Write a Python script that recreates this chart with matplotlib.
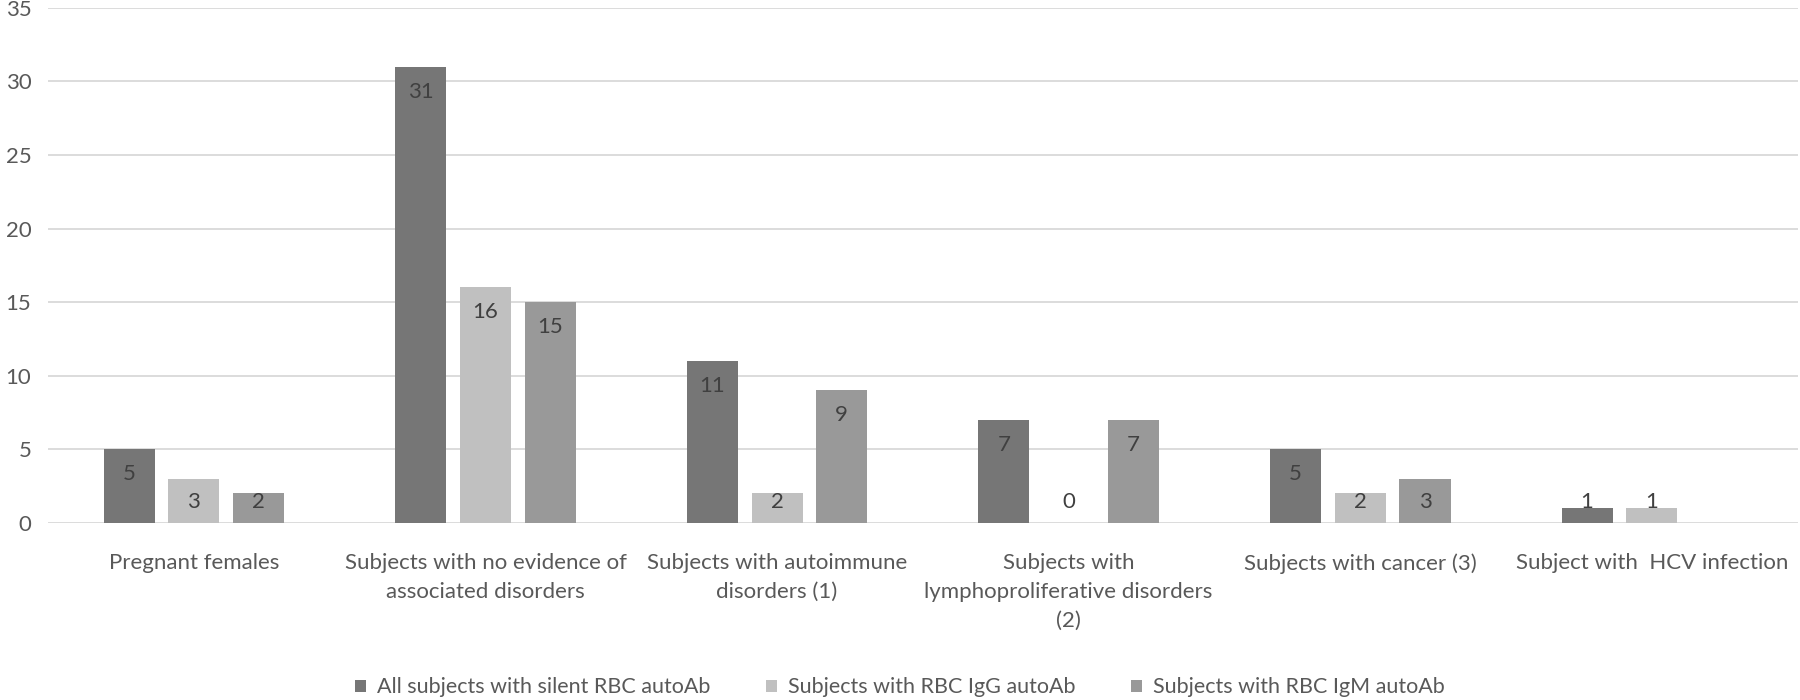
import numpy as np
import matplotlib.pyplot as plt

plt.rcParams['font.family'] = ['Lato', 'DejaVu Sans']

categories = ["Pregnant females",
              "Subjects with no evidence of\nassociated disorders",
              "Subjects with autoimmune\ndisorders (1)",
              "Subjects with\nlymphoproliferative disorders\n(2)",
              "Subjects with cancer (3)",
              "Subject with  HCV infection"]
series_names = ["All subjects with silent RBC autoAb",
                "Subjects with RBC IgG autoAb",
                "Subjects with RBC IgM autoAb"]
all_silent = [5, 31, 11, 7, 5, 1]
igg = [3, 16, 2, 0, 2, 1]
igm = [2, 15, 9, 7, 3, None]

colors = ["#767676", "#c0c0c0", "#999999"]

fig = plt.figure(figsize=(18, 7), dpi=100)
ax = fig.add_axes([0.0267, 0.253, 0.972, 0.736])

x = np.arange(len(categories))
width = 0.175
step = 0.222

for i, (vals, name) in enumerate(zip([all_silent, igg, igm], series_names)):
    pos = x + (i - 1) * step
    h = [v if v is not None else 0 for v in vals]
    ax.bar(pos, h, width, color=colors[i], label=name, zorder=3)
    for p, v in zip(pos, vals):
        if v is None:
            continue
        # label sits just inside the bar top, but never below the baseline
        ax.text(p, max(v - 1.7, 1.45), str(v), ha="center", va="center",
                fontsize=16, color="#404040", zorder=4)

ax.set_xlim(-0.5, len(categories) - 0.5)
ax.set_ylim(0, 35)
ax.set_yticks(range(0, 36, 5))
ax.set_xticks(x)
ax.set_xticklabels(categories, linespacing=1.55)
ax.yaxis.grid(True, color="#d9d9d9", linewidth=1.3, zorder=0)
ax.set_axisbelow(True)
for s in ax.spines.values():
    s.set_visible(False)
ax.tick_params(axis="x", length=0, pad=22, labelsize=16, labelcolor="#595959")
ax.tick_params(axis="y", length=0, pad=12, labelsize=16, labelcolor="#595959")

fig.legend(loc="center", bbox_to_anchor=(0.5, 0.018), ncol=3, frameon=False,
           fontsize=15.5, handlelength=0.5, handleheight=0.5, handletextpad=0.5,
           columnspacing=2.6, labelcolor="#595959")

fig.savefig("out.png", dpi=100)
